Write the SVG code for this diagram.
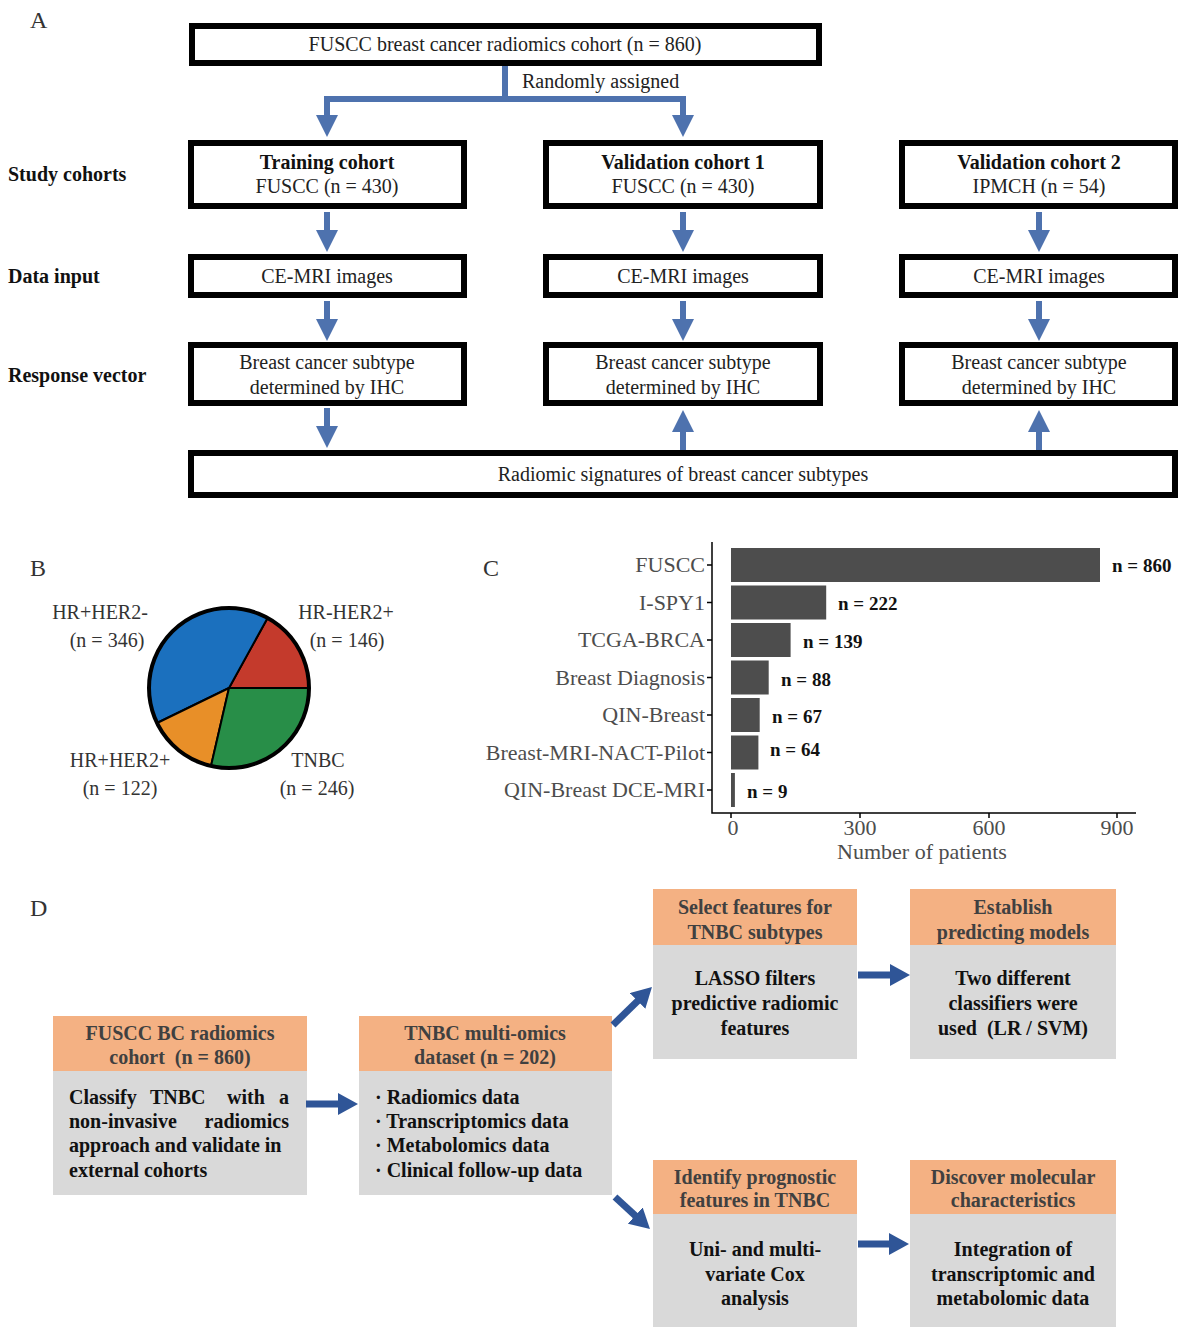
<svg xmlns="http://www.w3.org/2000/svg" width="1184" height="1327" viewBox="0 0 1184 1327">
<style>
text{font-family:"Liberation Serif","Times New Roman",serif;}
.t{font-size:20px;fill:#222;}
.tb{font-size:20px;font-weight:bold;fill:#111;}
.c{text-anchor:middle;}
.panel{font-size:24px;fill:#333;}
.boxA{fill:#fff;stroke:#000;stroke-width:6;}
.arrA{fill:none;stroke:#4E72AE;stroke-width:6;}
.arrD{fill:none;stroke:#2F5597;stroke-width:7;}
.pie{stroke:#000;stroke-width:2;stroke-linejoin:round;}
.pl{font-size:20px;fill:#333;}
.ax{font-size:22px;fill:#4D4D4D;}
.val{font-size:19px;font-weight:bold;fill:#111;}
.bar{fill:#4D4D4D;}
.hd{fill:#F4B183;}
.bd{fill:#D9D9D9;}
.ht{font-size:20px;font-weight:bold;fill:#404040;text-anchor:middle;}
.btx{font-size:20px;font-weight:bold;fill:#111;}
</style>
<defs>
<marker id="hA" viewBox="0 0 22 22" refX="11" refY="11" markerWidth="22" markerHeight="22" markerUnits="userSpaceOnUse" orient="auto"><path d="M0,0 L22,11 L0,22 Z" fill="#4E72AE"/></marker>
<marker id="hD" viewBox="0 0 20 22" refX="10" refY="11" markerWidth="20" markerHeight="22" markerUnits="userSpaceOnUse" orient="auto"><path d="M0,0 L20,11 L0,22 Z" fill="#2F5597"/></marker>
</defs>
<rect width="1184" height="1327" fill="#fff"/>

<!-- Panel labels -->
<text class="panel" x="30" y="28">A</text>
<text class="panel" x="30" y="576">B</text>
<text class="panel" x="483" y="576">C</text>
<text class="panel" x="30" y="916">D</text>

<!-- Panel A row labels -->
<text class="tb" x="8" y="181">Study cohorts</text>
<text class="tb" x="8" y="283">Data input</text>
<text class="tb" x="8" y="382">Response vector</text>

<!-- Panel A nodes -->
<g id="a-top"><rect class="boxA" x="192" y="26" width="627" height="37"/><text class="t c" x="505" y="51">FUSCC breast cancer radiomics cohort (n = 860)</text></g>
<g id="a-train"><rect class="boxA" x="191" y="143" width="273" height="63"/><text class="tb c" x="327" y="169">Training cohort</text><text class="t c" x="327" y="193">FUSCC (n = 430)</text></g>
<g id="a-val1"><rect class="boxA" x="546" y="143" width="274" height="63"/><text class="tb c" x="683" y="169">Validation cohort 1</text><text class="t c" x="683" y="193">FUSCC (n = 430)</text></g>
<g id="a-val2"><rect class="boxA" x="902" y="143" width="273" height="63"/><text class="tb c" x="1039" y="169">Validation cohort 2</text><text class="t c" x="1039" y="193">IPMCH (n = 54)</text></g>
<g id="a-ce1"><rect class="boxA" x="191" y="257" width="273" height="38"/><text class="t c" x="327" y="283">CE-MRI images</text></g>
<g id="a-ce2"><rect class="boxA" x="546" y="257" width="274" height="38"/><text class="t c" x="683" y="283">CE-MRI images</text></g>
<g id="a-ce3"><rect class="boxA" x="902" y="257" width="273" height="38"/><text class="t c" x="1039" y="283">CE-MRI images</text></g>
<g id="a-resp1"><rect class="boxA" x="191" y="345" width="273" height="58"/><text class="t c" x="327" y="369">Breast cancer subtype</text><text class="t c" x="327" y="394">determined by IHC</text></g>
<g id="a-resp2"><rect class="boxA" x="546" y="345" width="274" height="58"/><text class="t c" x="683" y="369">Breast cancer subtype</text><text class="t c" x="683" y="394">determined by IHC</text></g>
<g id="a-resp3"><rect class="boxA" x="902" y="345" width="273" height="58"/><text class="t c" x="1039" y="369">Breast cancer subtype</text><text class="t c" x="1039" y="394">determined by IHC</text></g>
<g id="a-sig"><rect class="boxA" x="191" y="453" width="984" height="42"/><text class="t c" x="683" y="481">Radiomic signatures of breast cancer subtypes</text></g>

<!-- Panel A connectors -->
<g id="a-connectors">
<path class="arrA" d="M505,66 V99"/>
<path class="arrA" d="M324,99 H686"/>
<path class="arrA" d="M327,99 V126" marker-end="url(#hA)"/>
<path class="arrA" d="M683,99 V126" marker-end="url(#hA)"/>
<text class="t" x="522" y="88">Randomly assigned</text>
<path class="arrA" d="M327,212 V241" marker-end="url(#hA)"/>
<path class="arrA" d="M683,212 V241" marker-end="url(#hA)"/>
<path class="arrA" d="M1039,212 V241" marker-end="url(#hA)"/>
<path class="arrA" d="M327,301 V330" marker-end="url(#hA)"/>
<path class="arrA" d="M683,301 V330" marker-end="url(#hA)"/>
<path class="arrA" d="M1039,301 V330" marker-end="url(#hA)"/>
<path class="arrA" d="M327,408 V437" marker-end="url(#hA)"/>
<path class="arrA" d="M683,450 V421" marker-end="url(#hA)"/>
<path class="arrA" d="M1039,450 V421" marker-end="url(#hA)"/>
</g>

<!-- Panel B pie -->
<g id="b-pie">
<path class="pie" fill="#C43A2C" d="M229,688 L309,688 A80,80 0 0 0 267.6,618 Z"/>
<path class="pie" fill="#1B70BE" d="M229,688 L267.6,618 A80,80 0 0 0 157.1,723 Z"/>
<path class="pie" fill="#E88F28" d="M229,688 L157.1,723 A80,80 0 0 0 211,766 Z"/>
<path class="pie" fill="#288E48" d="M229,688 L211,766 A80,80 0 0 0 309,688 Z"/>
<circle cx="229" cy="688" r="80" fill="none" stroke="#000" stroke-width="4"/>
</g>
<g id="b-labels">
<text class="pl c" x="100" y="619">HR+HER2-</text><text class="pl c" x="107" y="647">(n = 346)</text>
<text class="pl c" x="346" y="619">HR-HER2+</text><text class="pl c" x="347" y="647">(n = 146)</text>
<text class="pl c" x="120" y="767">HR+HER2+</text><text class="pl c" x="120" y="795">(n = 122)</text>
<text class="pl c" x="318" y="767">TNBC</text><text class="pl c" x="317" y="795">(n = 246)</text>
</g>

<!-- Panel C bar chart -->
<g id="c-chart">
<g id="c-bars">
<rect class="bar" x="731" y="548" width="369" height="34"/>
<rect class="bar" x="731" y="585.5" width="95.2" height="34"/>
<rect class="bar" x="731" y="623" width="59.6" height="34"/>
<rect class="bar" x="731" y="660.5" width="37.7" height="34"/>
<rect class="bar" x="731" y="698" width="28.7" height="34"/>
<rect class="bar" x="731" y="735.5" width="27.4" height="34"/>
<rect class="bar" x="731" y="773" width="3.9" height="34"/>
</g>
<g id="c-axes" stroke="#000" stroke-width="1.5" fill="none">
<path d="M712,542 V813 H1136"/>
<path d="M707,565 H712 M707,602.5 H712 M707,640 H712 M707,677.5 H712 M707,715 H712 M707,752.5 H712 M707,790 H712"/>
<path d="M731,813 V818 M860,813 V818 M989,813 V818 M1117,813 V818"/>
</g>
<g id="c-cats" text-anchor="end">
<text class="ax" x="705" y="572">FUSCC</text>
<text class="ax" x="705" y="610">I-SPY1</text>
<text class="ax" x="705" y="647">TCGA-BRCA</text>
<text class="ax" x="705" y="685">Breast Diagnosis</text>
<text class="ax" x="705" y="722">QIN-Breast</text>
<text class="ax" x="705" y="760">Breast-MRI-NACT-Pilot</text>
<text class="ax" x="705" y="797">QIN-Breast DCE-MRI</text>
</g>
<g id="c-vals">
<text class="val" x="1112" y="572">n = 860</text>
<text class="val" x="838" y="610">n = 222</text>
<text class="val" x="803" y="648">n = 139</text>
<text class="val" x="781" y="686">n = 88</text>
<text class="val" x="772" y="723">n = 67</text>
<text class="val" x="770" y="756">n = 64</text>
<text class="val" x="747" y="798">n = 9</text>
</g>
<g id="c-ticks" text-anchor="middle">
<text class="ax" x="733" y="835">0</text>
<text class="ax" x="860" y="835">300</text>
<text class="ax" x="989" y="835">600</text>
<text class="ax" x="1117" y="835">900</text>
<text class="ax" x="922" y="859">Number of patients</text>
</g>
</g>

<!-- Panel D nodes -->
<g id="d-cohort">
<rect class="hd" x="53" y="1016" width="254" height="55"/><rect class="bd" x="53" y="1071" width="254" height="124"/>
<text class="ht" x="180" y="1040">FUSCC BC radiomics</text><text class="ht" x="180" y="1064" xml:space="preserve">cohort  (n = 860)</text>
<text class="btx" y="1104"><tspan x="69">Classify</tspan><tspan x="150">TNBC</tspan><tspan x="227">with</tspan><tspan x="289" text-anchor="end">a</tspan></text>
<text class="btx" y="1128"><tspan x="69">non-invasive</tspan><tspan x="289" text-anchor="end">radiomics</tspan></text>
<text class="btx" x="69" y="1152">approach and validate in</text>
<text class="btx" x="69" y="1177">external cohorts</text>
</g>
<g id="d-multiomics">
<rect class="hd" x="359" y="1016" width="253" height="55"/><rect class="bd" x="359" y="1071" width="253" height="124"/>
<text class="ht" x="485" y="1040">TNBC multi-omics</text><text class="ht" x="485" y="1064">dataset (n = 202)</text>
<text class="btx" x="375" y="1104">· Radiomics data</text>
<text class="btx" x="375" y="1128">· Transcriptomics data</text>
<text class="btx" x="375" y="1152">· Metabolomics data</text>
<text class="btx" x="375" y="1177">· Clinical follow-up data</text>
</g>
<g id="d-select">
<rect class="hd" x="653" y="889" width="204" height="56"/><rect class="bd" x="653" y="945" width="204" height="114"/>
<text class="ht" x="755" y="914">Select features for</text><text class="ht" x="755" y="939">TNBC subtypes</text>
<text class="btx c" x="755" y="985">LASSO filters</text><text class="btx c" x="755" y="1010">predictive radiomic</text><text class="btx c" x="755" y="1035">features</text>
</g>
<g id="d-establish">
<rect class="hd" x="910" y="889" width="206" height="56"/><rect class="bd" x="910" y="945" width="206" height="114"/>
<text class="ht" x="1013" y="914">Establish</text><text class="ht" x="1013" y="939">predicting models</text>
<text class="btx c" x="1013" y="985">Two different</text><text class="btx c" x="1013" y="1010">classifiers were</text><text class="btx c" x="1013" y="1035" xml:space="preserve">used  (LR / SVM)</text>
</g>
<g id="d-identify">
<rect class="hd" x="653" y="1160" width="204" height="54"/><rect class="bd" x="653" y="1214" width="204" height="113"/>
<text class="ht" x="755" y="1184">Identify prognostic</text><text class="ht" x="755" y="1207">features in TNBC</text>
<text class="btx c" x="755" y="1256">Uni- and multi-</text><text class="btx c" x="755" y="1281">variate Cox</text><text class="btx c" x="755" y="1305">analysis</text>
</g>
<g id="d-discover">
<rect class="hd" x="910" y="1160" width="206" height="54"/><rect class="bd" x="910" y="1214" width="206" height="113"/>
<text class="ht" x="1013" y="1184">Discover molecular</text><text class="ht" x="1013" y="1207">characteristics</text>
<text class="btx c" x="1013" y="1256">Integration of</text><text class="btx c" x="1013" y="1281">transcriptomic and</text><text class="btx c" x="1013" y="1305">metabolomic data</text>
</g>

<!-- Panel D connectors -->
<g id="d-connectors">
<path class="arrD" d="M306,1104 H348" marker-end="url(#hD)"/>
<path class="arrD" d="M613,1025 L644.8,994" marker-end="url(#hD)"/>
<path class="arrD" d="M858,975 H900" marker-end="url(#hD)"/>
<path class="arrD" d="M615,1197 L642.6,1222.3" marker-end="url(#hD)"/>
<path class="arrD" d="M858,1244 H899" marker-end="url(#hD)"/>
</g>
</svg>
